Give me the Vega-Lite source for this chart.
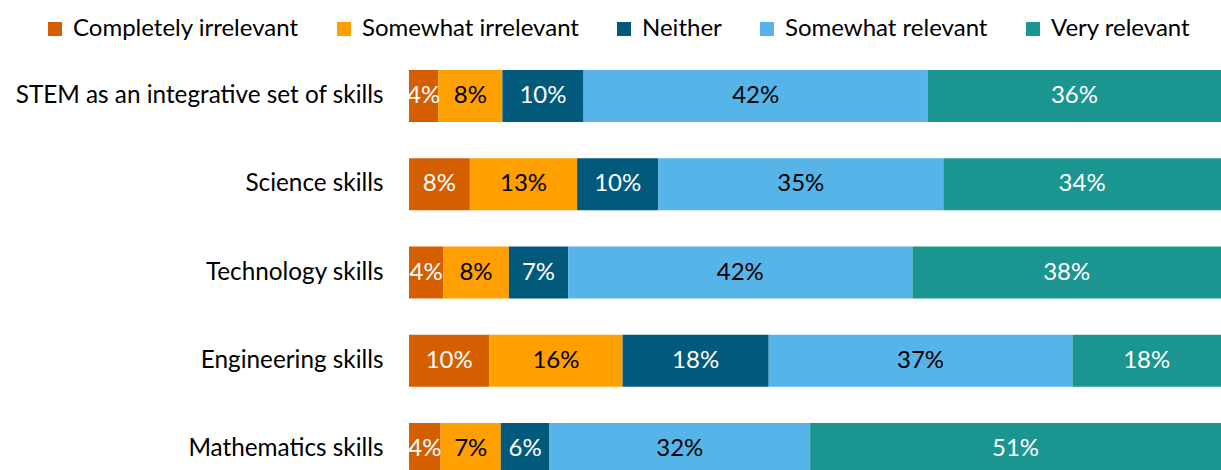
{
  "$schema": "https://vega.github.io/schema/vega-lite/v6.json",
  "width": 812,
  "height": 441,
  "autosize": {"type": "none"},
  "padding": {"left": 409, "top": 52, "right": 0, "bottom": 0},
  "background": "white",
  "config": {"view": {"stroke": null}, "font": "Lato"},
  "data": {
    "values": [
      {"skill": "STEM as an integrative set of skills", "response": "Completely irrelevant", "rank": 1, "pct": 0.036},
      {"skill": "STEM as an integrative set of skills", "response": "Somewhat irrelevant", "rank": 2, "pct": 0.079},
      {"skill": "STEM as an integrative set of skills", "response": "Neither", "rank": 3, "pct": 0.100},
      {"skill": "STEM as an integrative set of skills", "response": "Somewhat relevant", "rank": 4, "pct": 0.424},
      {"skill": "STEM as an integrative set of skills", "response": "Very relevant", "rank": 5, "pct": 0.361},
      {"skill": "Science skills", "response": "Completely irrelevant", "rank": 1, "pct": 0.075},
      {"skill": "Science skills", "response": "Somewhat irrelevant", "rank": 2, "pct": 0.132},
      {"skill": "Science skills", "response": "Neither", "rank": 3, "pct": 0.100},
      {"skill": "Science skills", "response": "Somewhat relevant", "rank": 4, "pct": 0.351},
      {"skill": "Science skills", "response": "Very relevant", "rank": 5, "pct": 0.342},
      {"skill": "Technology skills", "response": "Completely irrelevant", "rank": 1, "pct": 0.042},
      {"skill": "Technology skills", "response": "Somewhat irrelevant", "rank": 2, "pct": 0.081},
      {"skill": "Technology skills", "response": "Neither", "rank": 3, "pct": 0.073},
      {"skill": "Technology skills", "response": "Somewhat relevant", "rank": 4, "pct": 0.424},
      {"skill": "Technology skills", "response": "Very relevant", "rank": 5, "pct": 0.380},
      {"skill": "Engineering skills", "response": "Completely irrelevant", "rank": 1, "pct": 0.099},
      {"skill": "Engineering skills", "response": "Somewhat irrelevant", "rank": 2, "pct": 0.164},
      {"skill": "Engineering skills", "response": "Neither", "rank": 3, "pct": 0.180},
      {"skill": "Engineering skills", "response": "Somewhat relevant", "rank": 4, "pct": 0.374},
      {"skill": "Engineering skills", "response": "Very relevant", "rank": 5, "pct": 0.183},
      {"skill": "Mathematics skills", "response": "Completely irrelevant", "rank": 1, "pct": 0.039},
      {"skill": "Mathematics skills", "response": "Somewhat irrelevant", "rank": 2, "pct": 0.074},
      {"skill": "Mathematics skills", "response": "Neither", "rank": 3, "pct": 0.060},
      {"skill": "Mathematics skills", "response": "Somewhat relevant", "rank": 4, "pct": 0.321},
      {"skill": "Mathematics skills", "response": "Very relevant", "rank": 5, "pct": 0.506}
    ]
  },
  "transform": [
    {"stack": "pct", "groupby": ["skill"], "sort": [{"field": "rank", "order": "ascending"}], "offset": "normalize", "as": ["x0", "x1"]},
    {"calculate": "(datum.x0 + datum.x1) / 2", "as": "xmid"}
  ],
  "encoding": {
    "y": {
      "field": "skill",
      "type": "nominal",
      "sort": ["STEM as an integrative set of skills", "Science skills", "Technology skills", "Engineering skills", "Mathematics skills"],
      "scale": {"paddingInner": 0.41, "paddingOuter": 0.205},
      "axis": {"title": null, "domain": false, "ticks": false, "labelFontSize": 24.3, "labelColor": "black", "labelPadding": 26, "labelLimit": 500, "labelFont": "Lato"}
    }
  },
  "layer": [
    {
      "mark": {"type": "bar"},
      "encoding": {
        "x": {"field": "x0", "type": "quantitative", "scale": {"domain": [0, 1]}, "axis": null},
        "x2": {"field": "x1"},
        "color": {
          "field": "response",
          "type": "nominal",
          "sort": ["Completely irrelevant", "Somewhat irrelevant", "Neither", "Somewhat relevant", "Very relevant"],
          "scale": {
            "domain": ["Completely irrelevant", "Somewhat irrelevant", "Neither", "Somewhat relevant", "Very relevant"],
            "range": ["#D55E00", "#FFA000", "#015A7C", "#56B4E9", "#1B958F"]
          },
          "legend": {
            "title": null,
            "orient": "none",
            "direction": "horizontal",
            "legendX": -366,
            "legendY": -35,
            "symbolType": "square",
            "symbolSize": 196,
            "symbolStrokeWidth": 0,
            "symbolOpacity": 1,
            "labelFontSize": 24,
            "labelFont": "Lato",
            "labelColor": "black",
            "labelOffset": 6,
            "columnPadding": 33,
            "labelLimit": 400
          }
        }
      }
    },
    {
      "mark": {"type": "text", "fontSize": 24, "baseline": "middle", "align": "center"},
      "encoding": {
        "x": {"field": "xmid", "type": "quantitative"},
        "text": {"field": "pct", "type": "quantitative", "format": ".0%"},
        "color": {
          "condition": {"test": "datum.response === 'Somewhat irrelevant' || datum.response === 'Somewhat relevant'", "value": "black"},
          "value": "white"
        }
      }
    }
  ]
}
